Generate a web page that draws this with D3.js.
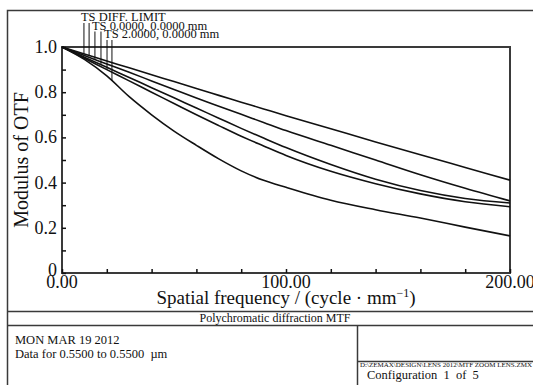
<!DOCTYPE html>
<html>
<head>
<meta charset="utf-8">
<script src="https://cdn.jsdelivr.net/npm/d3@7"></script>
<style>
  body { margin: 0; background: #fff; }
  svg { display: block; font-family: "Liberation Serif", "Times New Roman", serif; }
</style>
</head>
<body>
<div id="chart"></div>
<script>
// spatial frequency samples (cycle/mm)
const freq = [0, 10, 20, 30, 40, 50, 60, 70, 80, 90, 100, 120, 140, 160, 180, 200];

// MTF curves
const diffLimit = [1.0, 0.969, 0.938, 0.908, 0.877, 0.847, 0.816, 0.786, 0.756, 0.726, 0.696, 0.638, 0.580, 0.523, 0.467, 0.411];
const field0T = [1.0, 0.962, 0.925, 0.888, 0.850, 0.812, 0.774, 0.738, 0.702, 0.666, 0.630, 0.565, 0.500, 0.435, 0.375, 0.319];
const field0S = [1.0, 0.955, 0.910, 0.865, 0.820, 0.775, 0.730, 0.685, 0.640, 0.597, 0.555, 0.480, 0.415, 0.365, 0.330, 0.310];
const field2T = [1.0, 0.950, 0.900, 0.850, 0.800, 0.750, 0.700, 0.652, 0.605, 0.562, 0.520, 0.450, 0.395, 0.350, 0.315, 0.293];
const field2S = [1.0, 0.945, 0.872, 0.780, 0.700, 0.628, 0.565, 0.505, 0.452, 0.410, 0.379, 0.322, 0.280, 0.243, 0.203, 0.164];

const legendLabels = ['TS DIFF. LIMIT', 'TS 0.0000, 0.0000 mm', 'TS 2.0000, 0.0000 mm'];
// T and S curve for each legend entry, and the frequency where its marker line drops
const legendCurves = [[diffLimit, diffLimit], [field0T, field0S], [field2T, field2S]];
const legendMarkFreq = [[9.8, 12.1], [14.7, 17.4], [20.1, 22.3]];

const yTickValues = [0, 0.1, 0.2, 0.3, 0.4, 0.5, 0.6, 0.7, 0.8, 0.9, 1.0];
const yTickLabels = [0, 0.2, 0.4, 0.6, 0.8, 1.0];
const xTickValues = [0, 20, 40, 60, 80, 100, 120, 140, 160, 180, 200];
const xTickLabels = [0, 100, 200];

const W = 533, H = 385;
const margin = { top: 47, left: 62, right: 23, bottom: 112 };
const ink = '#111';
const frameInk = '#3a3a3a';

const svg = d3.select('#chart').append('svg')
  .attr('width', W)
  .attr('height', H);

const x = d3.scaleLinear().domain([0, 200]).range([margin.left, W - margin.right]);
const y = d3.scaleLinear().domain([0, 1]).range([H - margin.bottom, margin.top]);

// outer frame and info block
const frame = svg.append('g')
  .attr('fill', 'none')
  .attr('stroke', frameInk)
  .attr('stroke-width', 1.5);
frame.append('path').attr('d', `M7.5,${H}V10.5H${W}`);
frame.append('line').attr('x1', 7.5).attr('x2', W).attr('y1', 311.5).attr('y2', 311.5);
frame.append('line').attr('x1', 7.5).attr('x2', W).attr('y1', 325.5).attr('y2', 325.5);
frame.append('line').attr('x1', 357.5).attr('x2', 357.5).attr('y1', 325.5).attr('y2', H);
frame.append('line').attr('x1', 357.5).attr('x2', W).attr('y1', 361.5).attr('y2', 361.5);

// plot box
svg.append('rect')
  .attr('x', x(0))
  .attr('y', y(1))
  .attr('width', x(200) - x(0))
  .attr('height', y(0) - y(1))
  .attr('fill', 'none')
  .attr('stroke', frameInk)
  .attr('stroke-width', 2);

// axes, ticks pointing into the plot
const yAxis = svg.append('g')
  .attr('transform', `translate(${x(0)},0)`)
  .call(d3.axisRight(y).tickValues(yTickValues).tickSize(4).tickFormat(''));
yAxis.select('.domain').remove();
yAxis.selectAll('line').attr('stroke', ink).attr('stroke-width', 1.5);

const xAxis = svg.append('g')
  .attr('transform', `translate(0,${y(0)})`)
  .call(d3.axisTop(x).tickValues(xTickValues).tickSize(4).tickFormat(''));
xAxis.select('.domain').remove();
xAxis.selectAll('line').attr('stroke', ink).attr('stroke-width', 1.5);

svg.append('g').selectAll('text')
  .data(yTickLabels)
  .join('text')
  .attr('x', x(0) - 5)
  .attr('y', d => y(d) - (d === 0 ? 3 : 0))
  .attr('dy', '0.33em')
  .attr('text-anchor', 'end')
  .attr('font-size', 18)
  .attr('fill', ink)
  .text(d => d === 0 ? '0' : d3.format('.1f')(d));

svg.append('g').selectAll('text')
  .data(xTickLabels)
  .join('text')
  .attr('x', d => x(d))
  .attr('y', y(0) + 15)
  .attr('text-anchor', 'middle')
  .attr('font-size', 18)
  .attr('fill', ink)
  .text(d => d3.format('.2f')(d));

svg.append('text')
  .attr('transform', `translate(28,${(y(0) + y(1)) / 2}) rotate(-90)`)
  .attr('text-anchor', 'middle')
  .attr('font-size', 20)
  .attr('fill', ink)
  .text('Modulus of OTF');

const xTitle = svg.append('text')
  .attr('x', (x(0) + x(200)) / 2)
  .attr('y', 304)
  .attr('text-anchor', 'middle')
  .attr('font-size', 19)
  .attr('fill', ink);
xTitle.append('tspan').text('Spatial frequency / (cycle · mm');
xTitle.append('tspan').attr('font-size', 12).attr('dy', -7).text('−1');
xTitle.append('tspan').attr('dy', 7).text(')');

// curves
const line = d3.line()
  .x((d, i) => x(freq[i]))
  .y(d => y(d))
  .curve(d3.curveMonotoneX);

svg.append('g')
  .attr('fill', 'none')
  .attr('stroke', ink)
  .attr('stroke-width', 1.6)
  .selectAll('path')
  .data([diffLimit, field0T, field0S, field2T, field2S])
  .join('path')
  .attr('d', line);

// legend: stacked labels with marker lines dropping onto each T and S curve
const valueAt = (curve, f) => d3.scaleLinear().domain(freq).range(curve)(f);
const legendTop = [21, 29.5, 38];
legendLabels.forEach((label, i) => {
  svg.append('text')
    .attr('x', x(legendMarkFreq[i][0]) - 3)
    .attr('y', legendTop[i])
    .attr('font-size', 12.5)
    .attr('fill', ink)
    .text(label);
  legendCurves[i].forEach((curve, j) => {
    const f = legendMarkFreq[i][j];
    svg.append('line')
      .attr('x1', x(f)).attr('x2', x(f))
      .attr('y1', legendTop[i] + 2)
      .attr('y2', y(valueAt(curve, f)))
      .attr('stroke', ink)
      .attr('stroke-width', 1);
  });
});

// info block text
svg.append('text')
  .attr('x', (7 + 543) / 2)
  .attr('y', 322)
  .attr('text-anchor', 'middle')
  .attr('font-size', 12)
  .attr('fill', ink)
  .text('Polychromatic diffraction MTF');

svg.append('text')
  .attr('x', 15)
  .attr('y', 344)
  .attr('font-size', 12.5)
  .attr('fill', ink)
  .text('MON MAR 19 2012');

svg.append('text')
  .attr('x', 15)
  .attr('y', 358)
  .attr('font-size', 12.5)
  .attr('fill', ink)
  .style('white-space', 'pre')
  .text('Data for 0.5500 to 0.5500  µm');

svg.append('text')
  .attr('x', 360)
  .attr('y', 367)
  .attr('font-size', 6)
  .attr('fill', ink)
  .attr('textLength', 172)
  .attr('lengthAdjust', 'spacingAndGlyphs')
  .text('D:\\ZEMAX\\DESIGN\\LENS 2012\\MTF ZOOM LENS.ZMX');

svg.append('text')
  .attr('x', 367)
  .attr('y', 379)
  .attr('font-size', 12.5)
  .attr('fill', ink)
  .style('white-space', 'pre')
  .text('Configuration  1  of  5');
</script>
</body>
</html>
